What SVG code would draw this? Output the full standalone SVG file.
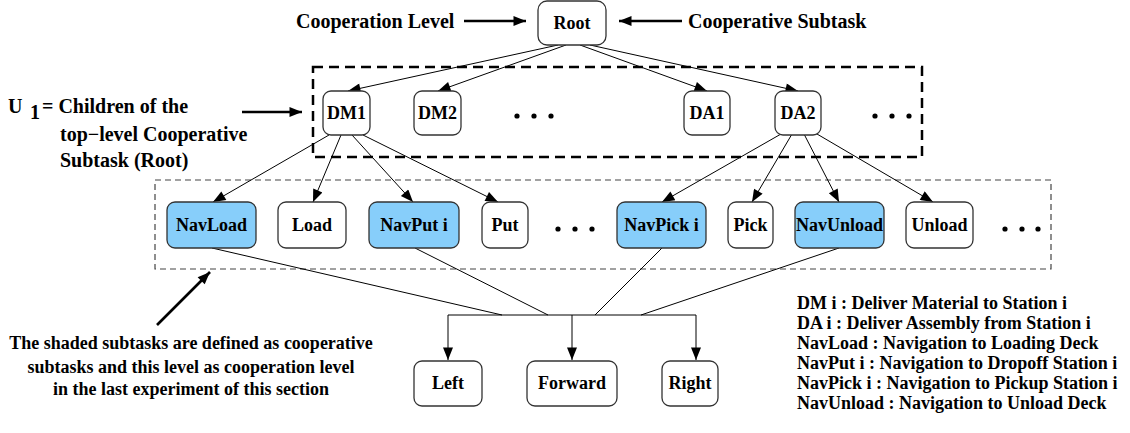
<svg xmlns="http://www.w3.org/2000/svg" width="1130" height="433" viewBox="0 0 1130 433">
<style>
text{font-family:"Liberation Serif","Times New Roman",serif;font-weight:bold;font-size:18px;fill:#000}
.big{font-size:20px}
.c{text-anchor:middle}
.box{fill:#fff;stroke:#333;stroke-width:1.3}
.sh{fill:#87CEFA;stroke:#333;stroke-width:1.3}
.ln{stroke:#000;stroke-width:1;fill:none}
.thick{stroke:#000;stroke-width:2.6;fill:none}
</style>
<defs>
<marker id="ahb" viewBox="0 0 10 8" refX="10" refY="4" markerWidth="16" markerHeight="10" markerUnits="userSpaceOnUse" orient="auto"><path d="M0,0L10,4L0,8z" fill="#000"/></marker>
</defs>

<g id="annotations">
<text class="big" x="296" y="28">Cooperation Level</text>
<text class="big" x="688" y="28">Cooperative Subtask</text>
<text class="big" x="8" y="113">U</text><text class="big" x="30" y="119">1</text><text class="big" x="42" y="113">= Children of the</text>
<text class="big" x="60" y="141">top−level Cooperative</text>
<text class="big" x="60" y="167">Subtask (Root)</text>
<text class="c" x="191" y="349">The shaded subtasks are defined as cooperative</text>
<text class="c" x="191" y="373">subtasks and this level as cooperation level</text>
<text class="c" x="191" y="395">in the last experiment of this section</text>
<text x="797" y="309">DM i : Deliver Material to Station i</text>
<text x="797" y="329">DA i : Deliver Assembly from Station i</text>
<text x="797" y="349">NavLoad : Navigation to Loading Deck</text>
<text x="797" y="369">NavPut i : Navigation to Dropoff Station i</text>
<text x="797" y="389">NavPick i : Navigation to Pickup Station i</text>
<text x="797" y="409">NavUnload : Navigation to Unload Deck</text>
<line class="thick" x1="464" y1="21" x2="526" y2="21" marker-end="url(#ahb)"/>
<line class="thick" x1="682" y1="21" x2="619" y2="21" marker-end="url(#ahb)"/>
<line class="thick" x1="242" y1="112" x2="302" y2="112" marker-end="url(#ahb)"/>
<line class="thick" x1="157" y1="325" x2="210" y2="272" marker-end="url(#ahb)"/>
</g>

<g id="groups">
<rect x="313" y="67" width="609" height="90" fill="none" stroke="#000" stroke-width="2.5" stroke-dasharray="10,6"/>
<rect x="155" y="180" width="896" height="89" fill="none" stroke="#444" stroke-width="1.2" stroke-dasharray="6,4"/>
</g>

<g id="connectors">
<line class="ln" x1="558" y1="45" x2="348" y2="91" marker-end="url(#ahb)"/>
<line class="ln" x1="566" y1="45" x2="438" y2="91" marker-end="url(#ahb)"/>
<line class="ln" x1="580" y1="45" x2="707" y2="91" marker-end="url(#ahb)"/>
<line class="ln" x1="590" y1="45" x2="798" y2="91" marker-end="url(#ahb)"/>
<line class="ln" x1="329" y1="135" x2="213" y2="202" marker-end="url(#ahb)"/>
<line class="ln" x1="341" y1="135" x2="313" y2="202" marker-end="url(#ahb)"/>
<line class="ln" x1="352" y1="135" x2="413" y2="202" marker-end="url(#ahb)"/>
<line class="ln" x1="363" y1="135" x2="498" y2="202" marker-end="url(#ahb)"/>
<line class="ln" x1="781" y1="134" x2="662" y2="202" marker-end="url(#ahb)"/>
<line class="ln" x1="792" y1="134" x2="752" y2="202" marker-end="url(#ahb)"/>
<line class="ln" x1="804" y1="134" x2="839" y2="202" marker-end="url(#ahb)"/>
<line class="ln" x1="817" y1="134" x2="933" y2="202" marker-end="url(#ahb)"/>
<line class="ln" x1="212" y1="248" x2="502" y2="315"/>
<line class="ln" x1="415" y1="248" x2="548" y2="315"/>
<line class="ln" x1="662" y1="248" x2="595" y2="315"/>
<line class="ln" x1="839" y1="248" x2="641" y2="315"/>
<line class="ln" x1="448" y1="315" x2="696" y2="315"/>
<line class="ln" x1="448" y1="315" x2="448" y2="360" marker-end="url(#ahb)"/>
<line class="ln" x1="572" y1="315" x2="572" y2="360" marker-end="url(#ahb)"/>
<line class="ln" x1="696" y1="315" x2="696" y2="360" marker-end="url(#ahb)"/>
</g>

<g id="root"><rect class="box" x="538" y="1" width="68" height="44" rx="9"/><text class="c" x="572" y="29">Root</text></g>
<g id="dm1"><rect class="box" x="323" y="91" width="47" height="44" rx="8"/><text class="c" x="346.5" y="119">DM1</text></g>
<g id="dm2"><rect class="box" x="414" y="91" width="47" height="44" rx="8"/><text class="c" x="437.5" y="119">DM2</text></g>
<g id="dots1"><circle cx="517" cy="116" r="2.6"/><circle cx="534" cy="116" r="2.6"/><circle cx="551" cy="116" r="2.6"/></g>
<g id="da1"><rect class="box" x="684" y="91" width="46" height="44" rx="8"/><text class="c" x="707" y="119">DA1</text></g>
<g id="da2"><rect class="box" x="775" y="91" width="46" height="44" rx="8"/><text class="c" x="798" y="119">DA2</text></g>
<g id="dots2"><circle cx="875" cy="116" r="2.6"/><circle cx="892" cy="116" r="2.6"/><circle cx="909" cy="116" r="2.6"/></g>

<g id="navload"><rect class="sh" x="167" y="202" width="89" height="46" rx="8"/><text class="c" x="211.5" y="231">NavLoad</text></g>
<g id="load"><rect class="box" x="278" y="202" width="68" height="46" rx="8"/><text class="c" x="312" y="231">Load</text></g>
<g id="navput"><rect class="sh" x="369" y="202" width="90" height="46" rx="8"/><text class="c" x="414" y="231">NavPut i</text></g>
<g id="put"><rect class="box" x="482" y="202" width="46" height="46" rx="8"/><text class="c" x="505" y="231">Put</text></g>
<g id="dots3"><circle cx="558" cy="229" r="2.6"/><circle cx="575" cy="229" r="2.6"/><circle cx="592" cy="229" r="2.6"/></g>
<g id="navpick"><rect class="sh" x="617" y="202" width="89" height="46" rx="8"/><text class="c" x="661.5" y="231">NavPick i</text></g>
<g id="pick"><rect class="box" x="728" y="202" width="45" height="46" rx="8"/><text class="c" x="750.5" y="231">Pick</text></g>
<g id="navunload"><rect class="sh" x="795" y="202" width="89" height="46" rx="8"/><text class="c" x="839.5" y="231">NavUnload</text></g>
<g id="unload"><rect class="box" x="906" y="202" width="67" height="46" rx="8"/><text class="c" x="939.5" y="231">Unload</text></g>
<g id="dots4"><circle cx="1005" cy="229" r="2.6"/><circle cx="1022" cy="229" r="2.6"/><circle cx="1038" cy="229" r="2.6"/></g>

<g id="left"><rect class="box" x="414" y="361" width="68" height="45" rx="8"/><text class="c" x="448" y="389">Left</text></g>
<g id="forward"><rect class="box" x="527" y="361" width="90" height="45" rx="8"/><text class="c" x="572" y="389">Forward</text></g>
<g id="right"><rect class="box" x="662" y="361" width="56" height="45" rx="8"/><text class="c" x="690" y="389">Right</text></g>
</svg>
